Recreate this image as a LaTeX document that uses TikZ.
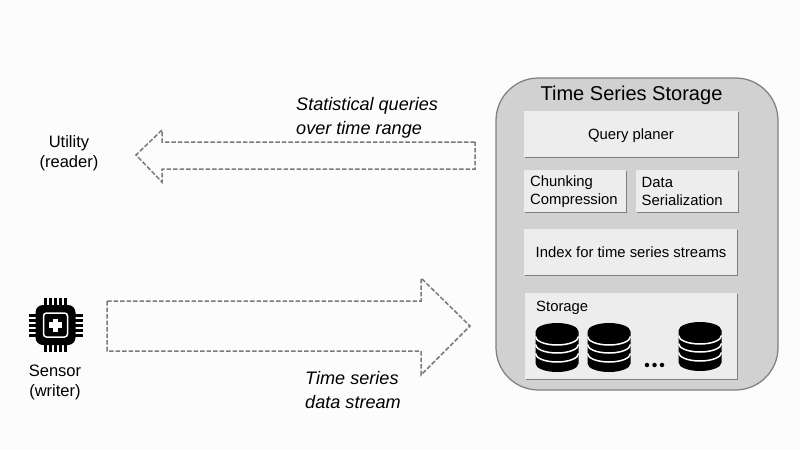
\documentclass[tikz,border=0pt]{standalone}
\usepackage{fontspec}
\setmainfont{Liberation Sans}
\usetikzlibrary{shadows}
\tikzset{
	panel/.style={fill=black!7, drop shadow={shadow xshift=0.3pt, shadow yshift=-0.5pt, fill=black, opacity=0.4}},
	flow/.style={dash pattern=on 2.6pt off 1.1pt, line width=0.3mm, color=black!52},
	small/.style={font=\fontsize{8.45}{10.6}\selectfont, align=left},
	actor/.style={font=\fontsize{9.4}{11.4}\selectfont, align=center},
	slanted/.style={font=\fontsize{10.3}{13.3}\selectfont\itshape, align=left, anchor=west}
}
\def\dbstack(#1,#2){
	\fill[black] (#1-0.43, #2+0.32) -- (#1-0.43, #2-0.32) arc (180:360:0.43 and 0.17) -- (#1+0.43, #2+0.32) arc (0:180:0.43 and 0.17) -- cycle;
	\draw[white, line width=0.3mm] (#1-0.43, #2+0.22) arc (180:360:0.43 and 0.17);
	\draw[white, line width=0.3mm] (#1-0.43, #2+0.06) arc (180:360:0.43 and 0.17);
	\draw[white, line width=0.3mm] (#1-0.43, #2-0.12) arc (180:360:0.43 and 0.17);
}
\begin{document}
\begin{tikzpicture}
			%%%%% START %%%%%
			\useasboundingbox (0, 0) rectangle (16, 9);
			\fill[black!1] (0, 0) rectangle (16, 9);
			
			% storage box
			\draw[fill=black!18, draw=black!50, line width=0.25mm, rounded corners=0.85cm] (9.92, 1.2) rectangle (15.56, 7.44);
			\node (title) at (12.63, 7.09) {\fontsize{11.4}{13}\selectfont Time Series Storage};
			
			\fill[panel] (10.48, 5.86) rectangle (14.76, 6.78);
			\node[small] (planer) at (12.62, 6.28) {Query planer};
			\fill[panel] (10.48, 4.76) rectangle (12.52, 5.6);
			\node[small, anchor=west] (chunking) at (10.48, 5.17) {Chunking\\Compression};
			\fill[panel] (12.72, 4.76) rectangle (14.76, 5.6);
			\node[small, anchor=west] (serial) at (12.71, 5.17) {Data\\Serialization};
			\fill[panel] (10.48, 3.5) rectangle (14.74, 4.42);
			\node[small] (index) at (12.62, 3.96) {Index for time series streams};
			\fill[panel] (10.5, 1.42) rectangle (14.74, 3.14);
			\node[small, anchor=west] (storage) at (10.6, 2.84) {Storage};
			
			\dbstack(11.14, 2.05);
			\dbstack(12.18, 2.05);
			\dbstack(14, 2.07);
			\foreach \px in {12.94, 13.09, 13.24}
				\fill[black] (\px, 1.7) circle (0.045);
			
			% reading arrow
			\draw[flow] (9.5, 6.16) -- (3.24, 6.16) -- (3.24, 6.4) -- (2.72, 5.9) -- (3.24, 5.36) -- (3.24, 5.62) -- (9.5, 5.62) -- cycle;
			% writing arrow
			\draw[flow] (2.14, 2.98) -- (8.42, 2.98) -- (8.42, 3.44) -- (9.4, 2.48) -- (8.42, 1.5) -- (8.42, 1.98) -- (2.14, 1.98) -- cycle;
			
			% sensor chip
			\foreach \pin in {-0.2, -0.1, 0, 0.1, 0.2} {
				\fill[black] (1.11+\pin-0.03, 1.96) rectangle (1.11+\pin+0.03, 3.04);
				\fill[black] (0.57, 2.5+\pin-0.03) rectangle (1.65, 2.5+\pin+0.03);
			}
			\fill[black, rounded corners=0.15cm] (0.71, 2.1) rectangle (1.51, 2.9);
			\draw[white, line width=0.3mm, rounded corners=0.06cm] (0.87, 2.26) rectangle (1.35, 2.74);
			\fill[white] (0.98, 2.445) rectangle (1.24, 2.555);
			\fill[white] (1.055, 2.37) rectangle (1.165, 2.63);
			
			\node[slanted] (queries) at (5.8, 6.64) {Statistical queries\\over time range};
			\node[slanted] (stream) at (5.98, 1.2) {Time series\\data stream};
			\node[actor] (reader) at (1.38, 5.94) {Utility\\(reader)};
			\node[actor] (writer) at (1.1, 1.36) {Sensor\\(writer)};
			%%%%% END %%%%%
\end{tikzpicture}
\end{document}
